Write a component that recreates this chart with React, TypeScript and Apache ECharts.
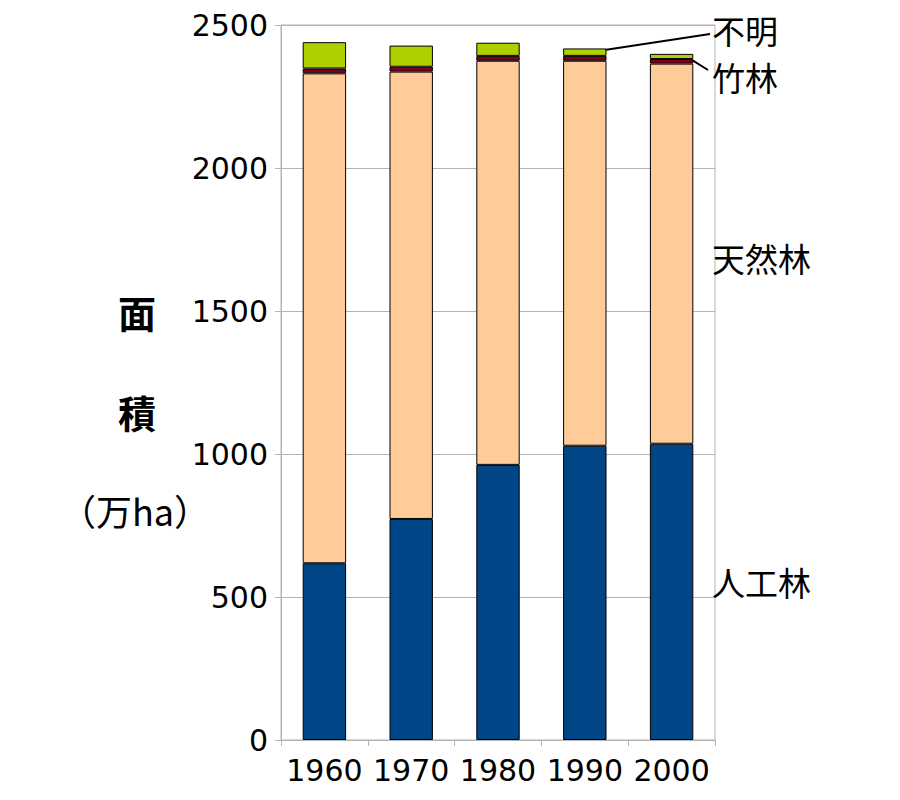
import React, { useEffect, useRef } from "react";
import * as echarts from "echarts";

const years = ["1960", "1970", "1980", "1990", "2000"];
const plantation = [618, 773, 962, 1029, 1036]; // 人工林
const natural = [1713, 1564, 1413, 1346, 1329]; // 天然林
const bamboo = [17, 17, 17, 17, 16]; // 竹林
const unknown = [92, 74, 46, 26, 18]; // 不明
const yTicks = [0, 500, 1000, 1500, 2000, 2500];

const FONT = "'DejaVu Sans', 'Noto Sans CJK JP', sans-serif";
const CJK = "'Noto Sans CJK JP', sans-serif";

export default function App() {
  const ref = useRef<HTMLDivElement>(null);
  useEffect(() => {
    if (!ref.current) return;
    const chart = echarts.init(ref.current, null, { renderer: "svg" });
    const border = { borderColor: "#000", borderWidth: 1 };
    chart.setOption({
      animation: false,
      backgroundColor: "#ffffff",
      grid: {
        left: 281,
        right: 185,
        top: 25,
        bottom: 60,
        show: true,
        borderColor: "#b3b3b3",
        borderWidth: 1,
      },
      xAxis: {
        type: "category",
        data: years,
        axisLine: { lineStyle: { color: "#b3b3b3" } },
        axisTick: { show: true, length: 6, lineStyle: { color: "#b3b3b3" } },
        axisLabel: { color: "#000", fontSize: 30, fontFamily: FONT, margin: 15, interval: 0, hideOverlap: false },
      },
      yAxis: {
        type: "value",
        min: yTicks[0],
        max: yTicks[yTicks.length - 1],
        interval: 500,
        axisLine: { show: true, lineStyle: { color: "#b3b3b3" } },
        axisTick: { show: true, length: 6, lineStyle: { color: "#b3b3b3" } },
        splitLine: { lineStyle: { color: "#b3b3b3" } },
        axisLabel: {
          color: "#000",
          fontSize: 30,
          fontFamily: FONT,
          margin: 13,
          formatter: (v: number) => String(v),
        },
      },
      series: [
        { name: "人工林", type: "bar", stack: "a", data: plantation, barWidth: "50%", itemStyle: { color: "#004586", ...border } },
        { name: "天然林", type: "bar", stack: "a", data: natural, itemStyle: { color: "#ffcc99", ...border } },
        { name: "竹林", type: "bar", stack: "a", data: bamboo, itemStyle: { color: "#7e0021", ...border } },
        { name: "不明", type: "bar", stack: "a", data: unknown, itemStyle: { color: "#aecf00", ...border } },
      ],
    });

    const px = (cat: string, v: number) => chart.convertToPixel({ gridIndex: 0 }, [cat, v]) as number[];
    const i90 = 3;
    const i00 = 4;
    const top90b = plantation[i90] + natural[i90] + bamboo[i90];
    const unkMid = px(years[i90], top90b + unknown[i90] / 2);
    const base00 = plantation[i00] + natural[i00];
    const bamMid = px(years[i00], base00 + bamboo[i00] / 2);
    const labelX = 712;
    const txt = (text: string, x: number, y: number, extra: any = {}) => ({
      type: "text",
      x,
      y,
      style: { text, fill: "#000", fontSize: 33, fontFamily: CJK, textVerticalAlign: "middle", ...extra },
    });
    chart.setOption({
      graphic: [
        txt("不明", labelX, 30),
        txt("竹林", labelX, 77),
        txt("天然林", labelX, 258),
        txt("人工林", labelX, 582),
        {
          type: "line",
          shape: { x1: unkMid[0] + 5, y1: unkMid[1], x2: 710, y2: 34 },
          style: { stroke: "#000", lineWidth: 2 },
        },
        {
          type: "line",
          shape: { x1: bamMid[0] + 21, y1: bamMid[1] - 1, x2: 708, y2: 70 },
          style: { stroke: "#000", lineWidth: 2 },
        },
        txt("面", 137, 311, { fontWeight: "bold", textAlign: "center", fontSize: 38 }),
        txt("積", 137, 411, { fontWeight: "bold", textAlign: "center", fontSize: 38 }),
        txt("（万ha）", 135, 510, { textAlign: "center", fontSize: 36 }),
      ],
    });
    return () => chart.dispose();
  }, []);
  return <div ref={ref} style={{ position: "fixed", left: 0, top: 0, width: 900, height: 800 }} />;
}
